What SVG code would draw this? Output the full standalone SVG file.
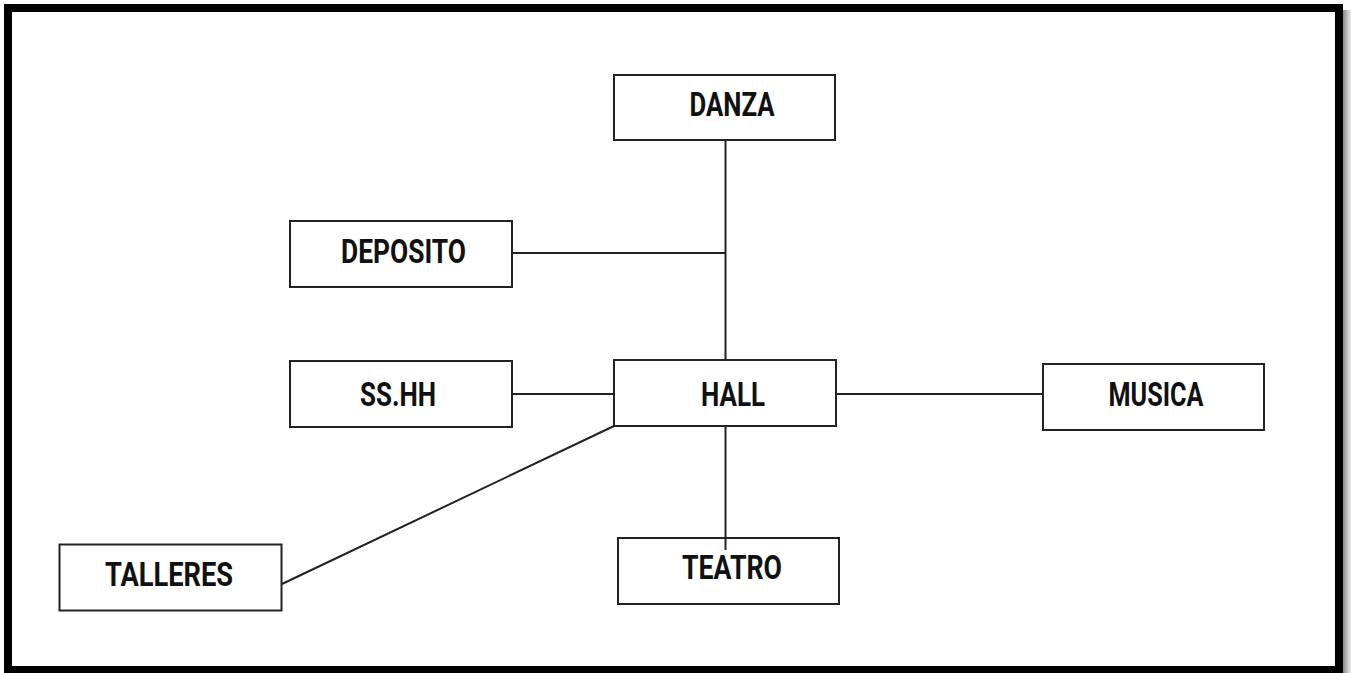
<svg xmlns="http://www.w3.org/2000/svg" width="1352" height="673" viewBox="0 0 1352 673">
<style>
.box{fill:#fff;stroke:#222;stroke-width:2}
.lbl{font-family:"Liberation Sans Narrow","Roboto","Liberation Sans",sans-serif;font-weight:bold;font-size:33px;fill:#111;text-anchor:middle}
.con{stroke:#222;stroke-width:2;fill:none}
</style>
<defs>
<linearGradient id="sh" x1="0" y1="0" x2="1" y2="0">
<stop offset="0" stop-color="#888"/>
<stop offset="1" stop-color="#eee"/>
</linearGradient>
</defs>
<rect width="1352" height="673" fill="#fff"/>
<rect x="1343" y="10" width="8" height="663" fill="url(#sh)"/>
<rect x="8" y="8" width="1331" height="662" fill="#fff" stroke="#000" stroke-width="8"/>
<g id="danza">
<rect class="box" x="614" y="75" width="221" height="65"/>
<text class="lbl" x="732" y="116" textLength="85" lengthAdjust="spacingAndGlyphs">DANZA</text>
</g>
<g id="deposito">
<rect class="box" x="290" y="221" width="222" height="66"/>
<text class="lbl" x="403.5" y="263" textLength="125" lengthAdjust="spacingAndGlyphs">DEPOSITO</text>
</g>
<g id="sshh">
<rect class="box" x="290" y="361" width="222" height="66"/>
<text class="lbl" x="398" y="406" textLength="76" lengthAdjust="spacingAndGlyphs">SS.HH</text>
</g>
<g id="hall">
<rect class="box" x="614" y="360" width="222" height="66"/>
<text class="lbl" x="733" y="406" textLength="64" lengthAdjust="spacingAndGlyphs">HALL</text>
</g>
<g id="musica">
<rect class="box" x="1043" y="364" width="221" height="66"/>
<text class="lbl" x="1156" y="406" textLength="95" lengthAdjust="spacingAndGlyphs">MUSICA</text>
</g>
<g id="teatro">
<rect class="box" x="618" y="538" width="221" height="66"/>
<text class="lbl" x="732" y="579" textLength="100" lengthAdjust="spacingAndGlyphs">TEATRO</text>
</g>
<g id="talleres">
<rect class="box" x="59.5" y="544.5" width="222" height="66"/>
<text class="lbl" x="169" y="586" textLength="128" lengthAdjust="spacingAndGlyphs">TALLERES</text>
</g>
<g id="connectors">
<line class="con" x1="725.5" y1="140" x2="725.5" y2="360"/>
<line class="con" x1="512" y1="253" x2="725.5" y2="253"/>
<line class="con" x1="512" y1="394" x2="614" y2="394"/>
<line class="con" x1="836" y1="394" x2="1043" y2="394"/>
<line class="con" x1="725.5" y1="426" x2="725.5" y2="550"/>
<line class="con" x1="614" y1="426" x2="282" y2="584"/>
</g>
</svg>
